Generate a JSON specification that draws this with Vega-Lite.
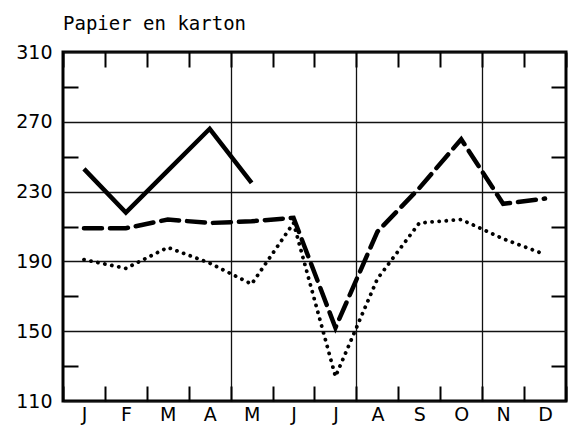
{
  "$schema": "https://vega.github.io/schema/vega-lite/v6.json",
  "width": 503,
  "height": 349,
  "autosize": "none",
  "padding": {"left": 63, "top": 52, "right": 5, "bottom": 31},
  "background": "white",
  "config": {
    "view": {"stroke": "black", "strokeWidth": 3},
    "axis": {
      "domain": false,
      "labelFont": "DejaVu Sans",
      "labelFontSize": 19,
      "labelColor": "black",
      "tickColor": "black",
      "tickWidth": 2,
      "gridColor": "#111111",
      "gridWidth": 1.3,
      "title": null
    }
  },
  "title": {
    "text": "Papier en karton",
    "anchor": "start",
    "frame": "group",
    "font": "DejaVu Sans Mono",
    "fontSize": 19,
    "fontWeight": "normal",
    "color": "black",
    "baseline": "alphabetic",
    "offset": -6
  },
  "data": {
    "values": [
      {"maand": "jan", "reeks": "huidig jaar", "waarde": 243},
      {"maand": "feb", "reeks": "huidig jaar", "waarde": 218},
      {"maand": "mrt", "reeks": "huidig jaar", "waarde": 242},
      {"maand": "apr", "reeks": "huidig jaar", "waarde": 266},
      {"maand": "mei", "reeks": "huidig jaar", "waarde": 235},
      {"maand": "jan", "reeks": "vorig jaar", "waarde": 209},
      {"maand": "feb", "reeks": "vorig jaar", "waarde": 209},
      {"maand": "mrt", "reeks": "vorig jaar", "waarde": 214},
      {"maand": "apr", "reeks": "vorig jaar", "waarde": 212},
      {"maand": "mei", "reeks": "vorig jaar", "waarde": 213},
      {"maand": "jun", "reeks": "vorig jaar", "waarde": 215},
      {"maand": "jul", "reeks": "vorig jaar", "waarde": 152},
      {"maand": "aug", "reeks": "vorig jaar", "waarde": 207},
      {"maand": "sep", "reeks": "vorig jaar", "waarde": 232},
      {"maand": "okt", "reeks": "vorig jaar", "waarde": 260},
      {"maand": "nov", "reeks": "vorig jaar", "waarde": 223},
      {"maand": "dec", "reeks": "vorig jaar", "waarde": 226},
      {"maand": "jan", "reeks": "twee jaar terug", "waarde": 191},
      {"maand": "feb", "reeks": "twee jaar terug", "waarde": 186},
      {"maand": "mrt", "reeks": "twee jaar terug", "waarde": 198},
      {"maand": "apr", "reeks": "twee jaar terug", "waarde": 189},
      {"maand": "mei", "reeks": "twee jaar terug", "waarde": 177},
      {"maand": "jun", "reeks": "twee jaar terug", "waarde": 212},
      {"maand": "jul", "reeks": "twee jaar terug", "waarde": 124},
      {"maand": "aug", "reeks": "twee jaar terug", "waarde": 180},
      {"maand": "sep", "reeks": "twee jaar terug", "waarde": 212},
      {"maand": "okt", "reeks": "twee jaar terug", "waarde": 214},
      {"maand": "nov", "reeks": "twee jaar terug", "waarde": 203},
      {"maand": "dec", "reeks": "twee jaar terug", "waarde": 194}
    ]
  },
  "layer": [
    {
      "transform": [{"filter": "datum.reeks != 'huidig jaar'"}],
      "mark": {"type": "line", "color": "black", "strokeCap": "round", "strokeJoin": "miter"},
      "encoding": {
        "x": {
          "field": "maand",
          "type": "ordinal",
          "bandPosition": 0.5,
          "scale": {"type": "band", "paddingInner": 0, "paddingOuter": 0, "domain": ["jan","feb","mrt","apr","mei","jun","jul","aug","sep","okt","nov","dec"]},
          "axis": {
            "orient": "bottom",
            "tickBand": "extent",
            "tickSize": -15,
            "labelPadding": 19,
            "labelAngle": 0,
            "labelExpr": "upper(substring(datum.label, 0, 1))",
            "grid": true,
            "gridOpacity": {"condition": {"test": "indexof(['apr','jul','okt'], datum.value) >= 0", "value": 1}, "value": 0}
          }
        },
        "y": {
          "field": "waarde",
          "type": "quantitative",
          "scale": {"domain": [110, 310], "nice": false, "zero": false},
          "axis": {
            "orient": "left",
            "values": [110, 130, 150, 170, 190, 210, 230, 250, 270, 290, 310],
            "tickSize": -15,
            "labelPadding": 26,
            "labelExpr": "datum.value % 40 == 30 ? datum.label : ''",
            "tickOpacity": {"condition": {"test": "datum.value % 40 == 30", "value": 0}, "value": 1},
            "grid": true,
            "gridOpacity": {"condition": {"test": "datum.value % 40 == 30", "value": 1}, "value": 0}
          }
        },
        "detail": {"field": "reeks"},
        "strokeDash": {
          "field": "reeks",
          "type": "nominal",
          "scale": {"domain": ["vorig jaar", "twee jaar terug"], "range": [[18, 8], [0.1, 7]]},
          "legend": null
        },
        "strokeWidth": {
          "field": "reeks",
          "type": "nominal",
          "scale": {"domain": ["vorig jaar", "twee jaar terug"], "range": [4.5, 3.8]},
          "legend": null
        }
      }
    },
    {
      "transform": [{"filter": "datum.reeks == 'huidig jaar'"}],
      "mark": {"type": "line", "color": "black", "strokeWidth": 4.5, "strokeJoin": "miter"},
      "encoding": {
        "x": {
          "field": "maand",
          "type": "ordinal",
          "bandPosition": 0.5,
          "axis": {
            "orient": "top",
            "tickBand": "extent",
            "tickSize": -15,
            "labels": false,
            "grid": false
          }
        },
        "y": {
          "field": "waarde",
          "type": "quantitative",
          "axis": {
            "orient": "right",
            "values": [130, 170, 210, 250, 290],
            "tickSize": -15,
            "labels": false,
            "grid": false
          }
        }
      }
    }
  ],
  "resolve": {"axis": {"x": "independent", "y": "independent"}}
}
